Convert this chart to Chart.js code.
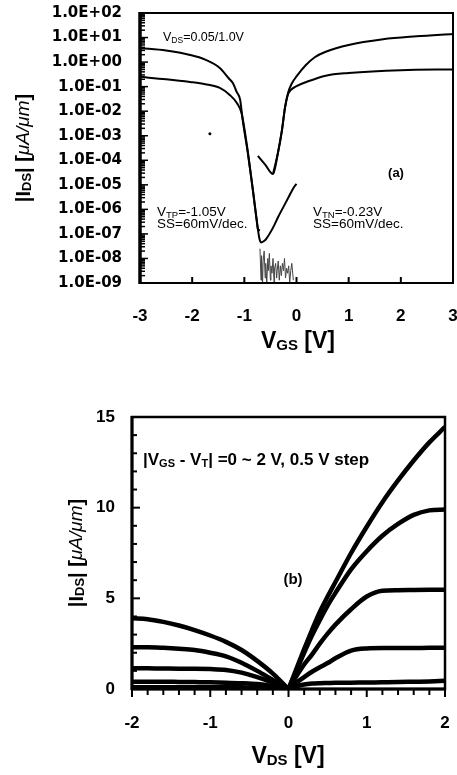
<!DOCTYPE html>
<html><head><meta charset="utf-8">
<script src="https://cdn.jsdelivr.net/npm/chart.js@4.4.0/dist/chart.umd.min.js"></script>
<style>
html,body{margin:0;padding:0;background:#fff;}
body{width:457px;height:775px;overflow:hidden;}
canvas{display:block;}
</style></head><body>
<canvas id="ca" width="457" height="380"></canvas>
<canvas id="cb" width="457" height="395"></canvas>
<script>
// ---------- Panel (a): |IDS| vs VGS (log scale) ----------
const xTickLabelsA = ['-3','-2','-1','0','1','2','3'];
const yTickLabelsA = ['1.0E-09','1.0E-08','1.0E-07','1.0E-06','1.0E-05','1.0E-04','1.0E-03','1.0E-02','1.0E-01','1.0E+00','1.0E+01','1.0E+02'];

// p-branch, VDS = 1.0 V
const vgsP_hi = [-3.0,-2.5,-2.04,-1.75,-1.47,-1.3,-1.22,-1.15,-1.08,-1.03,-0.93,-0.84,-0.76,-0.74,-0.70];
const idsP_hi = [3.7,2.95,1.95,1.26,0.58,0.22,0.14,0.063,0.029,4.1e-3,1.8e-4,7.4e-6,3.3e-7,1.6e-7,1.4e-7];
// p-branch, VDS = 0.05 V (with low tail)
const vgsP_lo = [-3.0,-2.5,-2.04,-1.75,-1.47,-1.28,-1.14,-1.05,-0.95,-0.85,-0.76,-0.71,-0.68,-0.63,-0.58,-0.45,-0.35,-0.25,-0.15,-0.05,0.0];
const idsP_lo = [0.25,0.2,0.155,0.126,0.089,0.046,0.021,7.9e-3,4.0e-4,1.0e-5,3.2e-7,6.3e-8,4.5e-8,5.0e-8,6.3e-8,1.8e-7,5.0e-7,1.26e-6,3.2e-6,7.9e-6,1.1e-5];
// n-branch, VDS = 1.0 V
const vgsN_hi = [-0.74,-0.6,-0.45,-0.36,-0.28,-0.22,-0.16,-0.09,0.0,0.18,0.35,0.56,1.0,1.66,2.3,3.0];
const idsN_hi = [1.5e-4,6.6e-5,2.75e-5,1.8e-4,1.6e-3,0.0141,0.0575,0.135,0.26,0.76,1.58,2.63,5.0,8.5,11.2,14.1];
// n-branch, VDS = 0.05 V
const vgsN_lo = [-0.45,-0.36,-0.28,-0.22,-0.16,-0.1,0.0,0.2,0.56,1.0,2.0,3.0];
const idsN_lo = [2.75e-5,1.8e-4,1.6e-3,0.0141,0.05,0.076,0.105,0.158,0.28,0.36,0.47,0.5];
// noise floor
const vgsNoise = [-0.70,-0.68,-0.67,-0.65,-0.64,-0.62,-0.60,-0.59,-0.57,-0.55,-0.54,-0.52,-0.50,-0.49,-0.47,-0.45,-0.43,-0.42,-0.40,-0.38,-0.37,-0.35,-0.33,-0.31,-0.29,-0.27,-0.25,-0.23,-0.21,-0.19,-0.17,-0.15,-0.13,-0.11,-0.09,-0.06];
const idsNoise = [2.5e-8,1.3e-9,1.3e-8,1.0e-9,7.9e-9,2.0e-8,1.6e-9,6.3e-9,1.0e-9,1.0e-8,3.2e-9,1.6e-8,1.3e-9,5.0e-9,2.5e-9,1.0e-8,1.0e-9,4.0e-9,6.3e-9,1.6e-9,3.2e-9,7.9e-9,1.3e-9,5.0e-9,2.0e-9,6.3e-9,3.2e-9,1.0e-8,1.6e-9,4.0e-9,2.5e-9,5.0e-9,1.0e-9,3.2e-9,6.3e-9,1.3e-9];
// stray point
const vgsDot = [-1.66];
const idsDot = [1.2e-3];

// ---------- Panel (b): |IDS| vs VDS (linear) ----------
const xTickLabelsB = ['-2','-1','0','1','2'];
const yTickLabelsB = ['0','5','10','15'];
const vdsPos = [0,0.1,0.2,0.3,0.4,0.5,0.6,0.8,1.0,1.2,1.4,1.6,1.8,2.0];
const idsN20 = [0,1.1,2.2,3.25,4.25,5.1,5.9,7.5,8.95,10.3,11.5,12.6,13.6,14.45];
const idsN15 = [0,1.0,2.0,2.95,3.8,4.6,5.3,6.6,7.6,8.45,9.1,9.6,9.85,9.9];
const idsN10 = [0,0.7,1.35,1.9,2.5,3.05,3.55,4.4,5.1,5.42,5.45,5.46,5.47,5.48];
const idsN05 = [0,0.35,0.66,0.95,1.2,1.43,1.7,2.12,2.24,2.26,2.26,2.26,2.27,2.27];
const idsN00 = [0,0.15,0.25,0.3,0.32,0.33,0.34,0.35,0.36,0.37,0.38,0.4,0.42,0.45];
const vdsNeg = [-2.0,-1.8,-1.6,-1.4,-1.2,-1.0,-0.8,-0.6,-0.4,-0.2,0];
const idsP20 = [3.9,3.85,3.7,3.5,3.25,2.95,2.6,2.15,1.55,0.85,0];
const idsP15 = [2.3,2.3,2.27,2.22,2.15,2.0,1.8,1.45,1.0,0.5,0];
const idsP10 = [1.15,1.14,1.13,1.12,1.12,1.1,1.05,0.9,0.65,0.35,0];
const idsP05 = [0.4,0.4,0.4,0.39,0.38,0.37,0.35,0.32,0.27,0.16,0];
const idsP00 = [0.1,0.1,0.1,0.1,0.1,0.1,0.1,0.09,0.08,0.05,0];

// ---------- helpers ----------
const SANS = "'Liberation Sans', Arial, sans-serif";
const pts = (xs, ys) => xs.map((x, i) => ({x, y: ys[i]}));
function line(ctx, x1, y1, x2, y2){ ctx.beginPath(); ctx.moveTo(x1,y1); ctx.lineTo(x2,y2); ctx.stroke(); }
function drawRuns(ctx, runs, x, y, opts){
  opts = opts || {};
  ctx.save();
  ctx.translate(x, y);
  if (opts.rot) ctx.rotate(-Math.PI/2);
  let total = 0;
  runs.forEach(r => { ctx.font = r.f; r.w = ctx.measureText(r.t).width; total += r.w; });
  let cx = opts.left ? 0 : -total/2;
  ctx.fillStyle = '#000'; ctx.textBaseline = 'middle'; ctx.textAlign = 'left';
  runs.forEach(r => { ctx.font = r.f; ctx.fillText(r.t, cx, r.dy || 0); cx += r.w; });
  ctx.restore();
}
function labelFrom(list){
  return v => { const m = list.find(l => Math.abs(Number(l) - v) < 1e-9 * Math.max(1, Math.abs(v)) || (v > 0 && Number(l) > 0 && Math.abs(Math.log10(Number(l)) - Math.log10(v)) < 1e-6)); return m === undefined ? '' : m; };
}

// ---------- chart (a) ----------
const lineDs = (xs, ys, extra) => Object.assign({type:'line', data: pts(xs, ys), borderColor:'#000', borderWidth:2, pointRadius:0, fill:false, cubicInterpolationMode:'monotone'}, extra || {});

const plugA = {
  id: 'decorA',
  afterDraw(chart){
    const {ctx, chartArea:a, scales:{x, y}} = chart;
    ctx.save();
    ctx.strokeStyle = '#000';
    ctx.lineWidth = 2;
    ctx.strokeRect(a.left, a.top, a.right - a.left, a.bottom - a.top);
    ctx.lineWidth = 3.5;
    line(ctx, a.left, a.top - 1, a.left, a.bottom + 1);
    ctx.lineWidth = 1.5;
    for (let e = -9; e <= 1; e++) {
      for (let k = 1; k <= 9; k++) {
        const py = y.getPixelForValue(k * Math.pow(10, e));
        line(ctx, a.left, py, a.left + (k === 1 ? 8 : 5), py);
      }
    }
    ctx.lineWidth = 2;
    xTickLabelsA.forEach(l => { const px = x.getPixelForValue(Number(l)); line(ctx, px, a.bottom, px, a.bottom - 6); });
    ctx.restore();
    // axis titles
    const B20 = 'bold 20px ' + SANS, B13 = 'bold 13px ' + SANS, I20 = 'italic 19px ' + SANS;
    drawRuns(ctx, [{t:'|I', f:B20},{t:'DS', f:B13, dy:3},{t:'| [', f:B20},{t:'μA/μm', f:I20},{t:']', f:B20}], 24, 148, {rot:true});
    const B23 = 'bold 23px ' + SANS, B15 = 'bold 15px ' + SANS;
    drawRuns(ctx, [{t:'V', f:B23},{t:'GS', f:B15, dy:4},{t:' [V]', f:B23}], 298, 342);
    // annotations
    const R12 = '12.5px ' + SANS, R8 = '8.5px ' + SANS, R13 = '13.5px ' + SANS, R9 = '9.5px ' + SANS;
    drawRuns(ctx, [{t:'V', f:R12},{t:'DS', f:R8, dy:3},{t:'=0.05/1.0V', f:R12}], 163, 38, {left:true});
    drawRuns(ctx, [{t:'(a)', f:'bold 13px ' + SANS}], 396, 173);
    drawRuns(ctx, [{t:'V', f:R13},{t:'TP', f:R9, dy:3},{t:'=-1.05V', f:R13}], 157, 212, {left:true});
    drawRuns(ctx, [{t:'SS=60mV/dec.', f:R13}], 157, 224, {left:true});
    drawRuns(ctx, [{t:'V', f:R13},{t:'TN', f:R9, dy:3},{t:'=-0.23V', f:R13}], 313, 212, {left:true});
    drawRuns(ctx, [{t:'SS=60mV/dec.', f:R13}], 313, 224, {left:true});
  }
};

new Chart(document.getElementById('ca'), {
  type: 'line',
  data: { datasets: [
    lineDs(vgsP_hi, idsP_hi),
    lineDs(vgsP_lo, idsP_lo),
    lineDs(vgsN_hi, idsN_hi),
    lineDs(vgsN_lo, idsN_lo),
    lineDs(vgsNoise, idsNoise, {borderWidth:1, borderColor:'#444', cubicInterpolationMode:'default', tension:0}),
    {type:'scatter', data: pts(vgsDot, idsDot), pointRadius:1.5, backgroundColor:'#000', borderWidth:0}
  ]},
  options: {
    responsive:false, animation:false, devicePixelRatio:1,
    layout: {padding: {top:13, right:4, left:0, bottom:0}},
    plugins: {legend:{display:false}, tooltip:{enabled:false}},
    scales: {
      x: { type:'linear', min:-3, max:3,
        grid:{display:false, drawTicks:false}, border:{display:false},
        ticks:{stepSize:1, autoSkip:false, padding:23, color:'#000', font:{family:SANS, weight:'bold', size:17}, callback: labelFrom(xTickLabelsA), maxRotation:0},
        afterFit: s => { s.height = 97; s.paddingLeft = 0; s.paddingRight = 0; } },
      y: { type:'logarithmic', min:1e-9, max:1e2,
        grid:{display:false, drawTicks:false}, border:{display:false},
        afterBuildTicks: s => { s.ticks = yTickLabelsA.map(l => ({value: Number(l)})); },
        ticks:{autoSkip:false, padding:18, color:'#000', font:{family:"'DejaVu Sans', sans-serif", weight:'bold', size:15}, callback: labelFrom(yTickLabelsA)},
        afterFit: s => { s.width = 140; s.paddingTop = 0; s.paddingBottom = 0; } }
    }
  },
  plugins: [plugA]
});

// ---------- chart (b) ----------
const thick = (xs, ys) => ({type:'line', data: pts(xs, ys), borderColor:'#000', borderWidth:4.5, pointRadius:0, fill:false, cubicInterpolationMode:'monotone'});

const plugB = {
  id: 'decorB',
  afterDraw(chart){
    const {ctx, chartArea:a, scales:{x, y}} = chart;
    ctx.save();
    ctx.strokeStyle = '#000';
    ctx.lineWidth = 2.5;
    ctx.strokeRect(a.left, a.top, a.right - a.left, a.bottom - a.top);
    ctx.lineWidth = 3;
    line(ctx, a.left, a.top - 1, a.left, a.bottom + 1);
    line(ctx, a.left - 1, a.bottom, a.right + 1, a.bottom);
    ctx.lineWidth = 2;
    for (let v = 0; v <= 15; v++) {
      const py = y.getPixelForValue(v);
      line(ctx, a.left, py, a.left + (v % 5 === 0 ? 8 : 5), py);
    }
    for (let i = -10; i <= 10; i++) {
      const px = x.getPixelForValue(i / 5);
      line(ctx, px, a.bottom, px, a.bottom + (i % 5 === 0 ? 8 : 6));
    }
    ctx.restore();
    const B20 = 'bold 20px ' + SANS, B13 = 'bold 13px ' + SANS, I20 = 'italic 19px ' + SANS;
    drawRuns(ctx, [{t:'|I', f:B20},{t:'DS', f:B13, dy:3},{t:'| [', f:B20},{t:'μA/μm', f:I20},{t:']', f:B20}], 77, 173, {rot:true});
    const B23 = 'bold 23px ' + SANS, B15 = 'bold 15px ' + SANS;
    drawRuns(ctx, [{t:'V', f:B23},{t:'DS', f:B15, dy:4},{t:' [V]', f:B23}], 288, 377);
    const B17 = 'bold 17px ' + SANS, B11 = 'bold 11px ' + SANS;
    drawRuns(ctx, [{t:'|V', f:B17},{t:'GS', f:B11, dy:4},{t:' - V', f:B17},{t:'T', f:B11, dy:4},{t:'| =0 ~ 2 V, 0.5 V step', f:B17}], 143, 80, {left:true});
    drawRuns(ctx, [{t:'(b)', f:'bold 15px ' + SANS}], 293, 200);
  }
};

new Chart(document.getElementById('cb'), {
  type: 'line',
  data: { datasets: [
    thick(vdsPos, idsN20), thick(vdsPos, idsN15), thick(vdsPos, idsN10), thick(vdsPos, idsN05), thick(vdsPos, idsN00),
    thick(vdsNeg, idsP20), thick(vdsNeg, idsP15), thick(vdsNeg, idsP10), thick(vdsNeg, idsP05), thick(vdsNeg, idsP00)
  ]},
  options: {
    responsive:false, animation:false, devicePixelRatio:1,
    layout: {padding: {top:37, right:12, left:0, bottom:0}},
    plugins: {legend:{display:false}, tooltip:{enabled:false}},
    scales: {
      x: { type:'linear', min:-2, max:2,
        grid:{display:false, drawTicks:false}, border:{display:false},
        ticks:{stepSize:1, autoSkip:false, padding:24, color:'#000', font:{family:SANS, weight:'bold', size:17}, callback: labelFrom(xTickLabelsB), maxRotation:0},
        afterFit: s => { s.height = 86; s.paddingLeft = 0; s.paddingRight = 0; } },
      y: { type:'linear', min:0, max:15,
        grid:{display:false, drawTicks:false}, border:{display:false},
        ticks:{stepSize:5, autoSkip:false, padding:17, color:'#000', font:{family:SANS, weight:'bold', size:17}, callback: labelFrom(yTickLabelsB)},
        afterFit: s => { s.width = 132; s.paddingTop = 0; s.paddingBottom = 0; } }
    }
  },
  plugins: [plugB]
});
</script>
</body></html>
